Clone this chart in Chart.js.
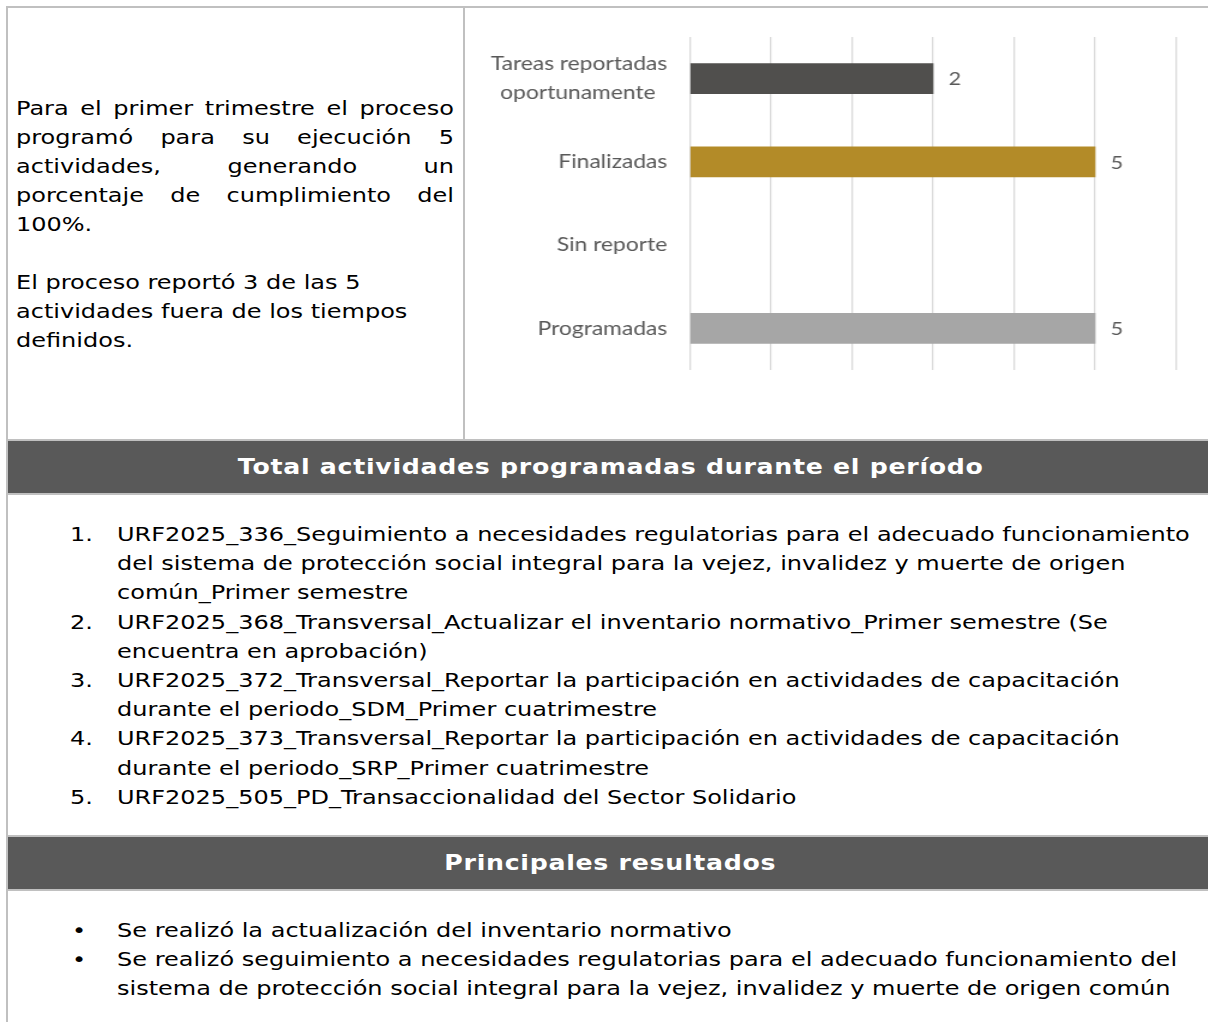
<!DOCTYPE html>
<html><head><meta charset="utf-8">
<script src="https://cdn.jsdelivr.net/npm/chart.js@4.4.1/dist/chart.umd.min.js"></script>
<style>
html,body{margin:0;padding:0;background:#fff;}
body{width:1208px;height:1022px;overflow:hidden;position:relative;font-family:"DejaVu Sans",Verdana,sans-serif;color:#000;}
.frame{position:absolute;left:6px;top:6px;width:1400px;height:1200px;border-left:2px solid #c0c0c0;border-top:2px solid #c0c0c0;}
.vdiv{position:absolute;left:463px;top:8px;width:2px;height:432px;background:#c0c0c0;}
.band{position:absolute;left:8px;width:1205px;height:52px;line-height:52px;background:#595959;border-top:2px solid #c0c0c0;border-bottom:2px solid #c0c0c0;color:#fff;font-weight:bold;font-size:21px;text-align:center;}
.band span{display:inline-block;letter-spacing:0.6px;transform:scaleX(1.2);transform-origin:50% 50%;}
.lefttext{position:absolute;left:16px;top:94px;width:365px;font-size:20px;line-height:29px;transform:scaleX(1.2);transform-origin:0 0;}
.lefttext .j{text-align:justify;text-align-last:justify;}
.item{position:absolute;left:0;font-size:20px;line-height:29.2px;white-space:nowrap;}
.num,.txt{position:absolute;transform:scaleX(1.2);transform-origin:0 0;}
.num{left:70px;}
.txt{left:117px;}
#wrap{position:absolute;left:465px;top:8px;width:619px;height:432px;transform:scaleX(1.2);transform-origin:0 0;}
</style></head>
<body>
<div class="frame"></div>
<div class="vdiv"></div>
<div class="lefttext">
<div class="j">Para el primer trimestre el proceso</div>
<div class="j">programó para su ejecución 5</div>
<div class="j">actividades, generando un</div>
<div class="j">porcentaje de cumplimiento del</div>
<div>100%.</div>
<div>&nbsp;</div>
<div>El proceso reportó 3 de las 5</div>
<div>actividades fuera de los tiempos</div>
<div>definidos.</div>
</div>
<div id="wrap"><canvas id="c" width="619" height="432"></canvas></div>
<div class="band" style="top:439px;"><span>Total actividades programadas durante el período</span></div>
<div class="item" style="top:520px;"><span class="num">1.</span><span class="txt">URF2025_336_Seguimiento a necesidades regulatorias para el adecuado funcionamiento<br>del sistema de protección social integral para la vejez, invalidez y muerte de origen<br>común_Primer semestre</span></div>
<div class="item" style="top:607.6px;"><span class="num">2.</span><span class="txt">URF2025_368_Transversal_Actualizar el inventario normativo_Primer semestre (Se<br>encuentra en aprobación)</span></div>
<div class="item" style="top:666px;"><span class="num">3.</span><span class="txt">URF2025_372_Transversal_Reportar la participación en actividades de capacitación<br>durante el periodo_SDM_Primer cuatrimestre</span></div>
<div class="item" style="top:724.4px;"><span class="num">4.</span><span class="txt">URF2025_373_Transversal_Reportar la participación en actividades de capacitación<br>durante el periodo_SRP_Primer cuatrimestre</span></div>
<div class="item" style="top:782.8px;"><span class="num">5.</span><span class="txt">URF2025_505_PD_Transaccionalidad del Sector Solidario</span></div>
<div class="band" style="top:835px;"><span>Principales resultados</span></div>
<div class="item" style="top:915.5px;"><span class="num" style="left:72px;">•</span><span class="txt">Se realizó la actualización del inventario normativo</span></div>
<div class="item" style="top:944.7px;"><span class="num" style="left:72px;">•</span><span class="txt">Se realizó seguimiento a necesidades regulatorias para el adecuado funcionamiento del<br>sistema de protección social integral para la vejez, invalidez y muerte de origen común</span></div>
<script>
// Category labels (top to bottom), bar lengths as drawn, and the value labels printed beside them
const categories = [["Tareas reportadas", "oportunamente  "], "Finalizadas", "Sin reporte", "Programadas"];
const barValues = [3, 5, null, 5];
const valueLabels = ["2", "5", null, "5"];
const barColors = ["#504f4d", "#b38b28", "#a6a6a6", "#a6a6a6"];
const axisMin = 0;
const axisMax = 6;

const valueLabelPlugin = {
  id: 'valueLabelPlugin',
  afterDatasetsDraw(chart) {
    const ctx = chart.ctx;
    const meta = chart.getDatasetMeta(0);
    ctx.save();
    ctx.font = '18px Lato, "Open Sans", sans-serif';
    ctx.fillStyle = '#595959';
    ctx.textAlign = 'left';
    ctx.textBaseline = 'middle';
    meta.data.forEach((bar, i) => {
      const t = valueLabels[i];
      if (t === null || t === undefined) return;
      ctx.fillText(t, bar.x + 13, bar.y + 1);
    });
    ctx.restore();
  }
};

new Chart(document.getElementById('c'), {
  type: 'bar',
  data: {
    labels: categories,
    datasets: [{ data: barValues, backgroundColor: barColors, barThickness: 30, borderWidth: 0 }]
  },
  options: {
    indexAxis: 'y',
    responsive: false,
    devicePixelRatio: 1,
    animation: false,
    layout: { padding: { left: 0, right: 26.5, top: 29, bottom: 70 } },
    plugins: { legend: { display: false }, tooltip: { enabled: false } },
    scales: {
      x: {
        min: axisMin, max: axisMax,
        ticks: { display: false, stepSize: 1 },
        grid: { color: '#d9d9d9', lineWidth: 1.3, drawTicks: false },
        border: { display: false },
        afterFit(s) { s.height = 0; s.paddingLeft = 0; s.paddingRight = 0; }
      },
      y: {
        ticks: { color: '#595959', padding: 19, font: { family: 'Lato, "Open Sans", sans-serif', size: 19, lineHeight: 1.52 } },
        grid: { display: false, drawTicks: false },
        border: { display: false },
        afterFit(s) { s.width = 187.5; s.paddingTop = 0; s.paddingBottom = 0; }
      }
    }
  },
  plugins: [valueLabelPlugin]
});
</script>
</body></html>
